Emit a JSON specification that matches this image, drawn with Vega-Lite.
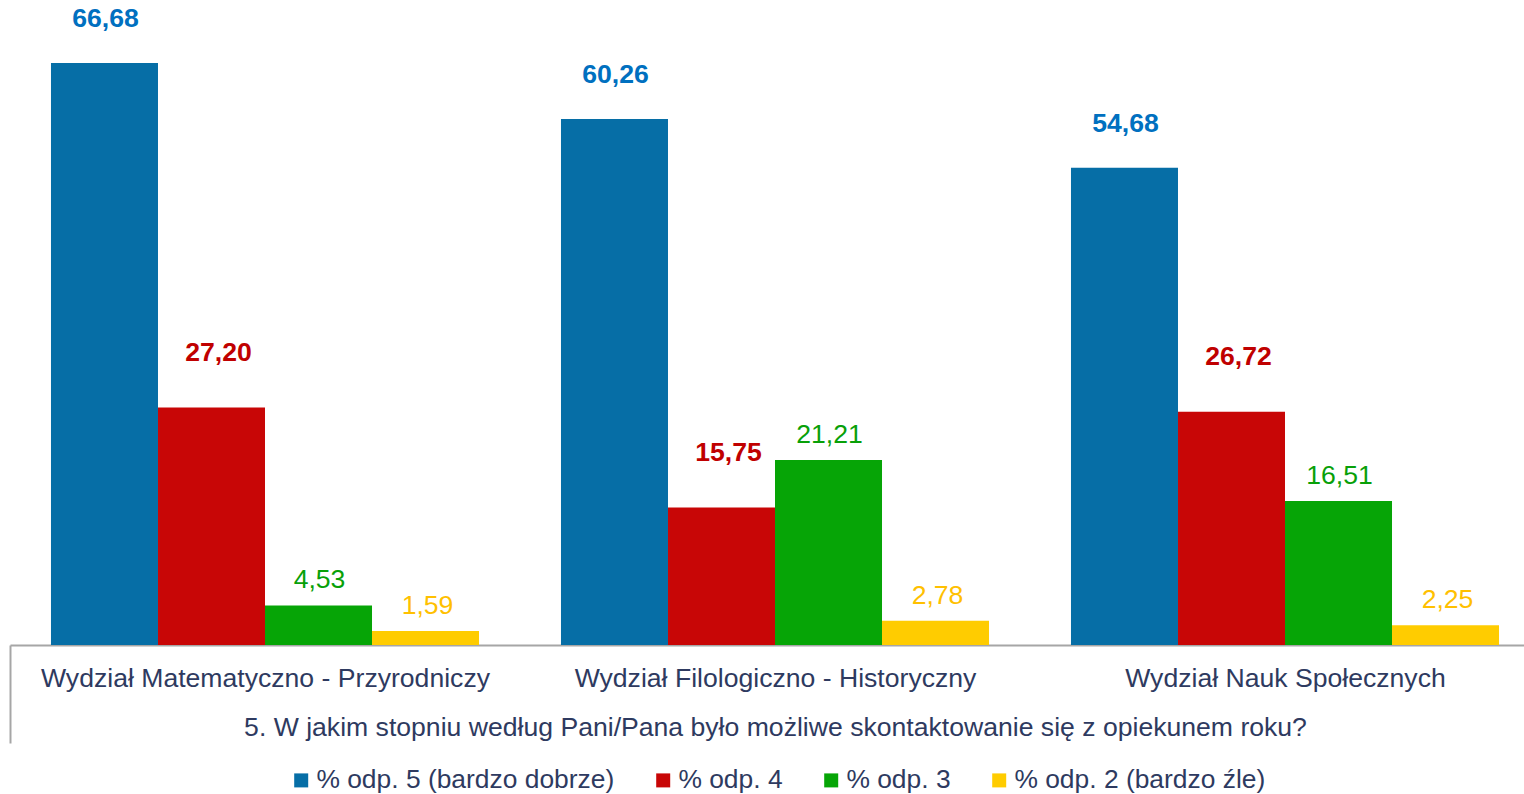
{
  "$schema": "https://vega.github.io/schema/vega-lite/v6.json",
  "width": 1514,
  "height": 645,
  "padding": {"left": 10, "top": 0, "right": 0, "bottom": 149},
  "autosize": {"type": "none"},
  "background": "white",
  "config": {
    "view": {"stroke": null},
    "font": "Liberation Sans",
    "text": {"font": "Liberation Sans"}
  },
  "data": {
    "values": [
      {"wydzial": "Wydział Matematyczno - Przyrodniczy", "seria": "% odp. 5 (bardzo dobrze)", "wartosc": 66.68, "etykieta": "66,68"},
      {"wydzial": "Wydział Matematyczno - Przyrodniczy", "seria": "% odp. 4", "wartosc": 27.20, "etykieta": "27,20"},
      {"wydzial": "Wydział Matematyczno - Przyrodniczy", "seria": "% odp. 3", "wartosc": 4.53, "etykieta": "4,53"},
      {"wydzial": "Wydział Matematyczno - Przyrodniczy", "seria": "% odp. 2 (bardzo źle)", "wartosc": 1.59, "etykieta": "1,59"},
      {"wydzial": "Wydział Filologiczno - Historyczny", "seria": "% odp. 5 (bardzo dobrze)", "wartosc": 60.26, "etykieta": "60,26"},
      {"wydzial": "Wydział Filologiczno - Historyczny", "seria": "% odp. 4", "wartosc": 15.75, "etykieta": "15,75"},
      {"wydzial": "Wydział Filologiczno - Historyczny", "seria": "% odp. 3", "wartosc": 21.21, "etykieta": "21,21"},
      {"wydzial": "Wydział Filologiczno - Historyczny", "seria": "% odp. 2 (bardzo źle)", "wartosc": 2.78, "etykieta": "2,78"},
      {"wydzial": "Wydział Nauk Społecznych", "seria": "% odp. 5 (bardzo dobrze)", "wartosc": 54.68, "etykieta": "54,68"},
      {"wydzial": "Wydział Nauk Społecznych", "seria": "% odp. 4", "wartosc": 26.72, "etykieta": "26,72"},
      {"wydzial": "Wydział Nauk Społecznych", "seria": "% odp. 3", "wartosc": 16.51, "etykieta": "16,51"},
      {"wydzial": "Wydział Nauk Społecznych", "seria": "% odp. 2 (bardzo źle)", "wartosc": 2.25, "etykieta": "2,25"}
    ]
  },
  "encoding": {
    "x": {
      "field": "wydzial",
      "type": "nominal",
      "sort": ["Wydział Matematyczno - Przyrodniczy", "Wydział Filologiczno - Historyczny", "Wydział Nauk Społecznych"],
      "scale": {"range": [0, 1530], "paddingInner": 0, "paddingOuter": 0},
      "axis": {
        "title": "5. W jakim stopniu według Pani/Pana było możliwe skontaktowanie się z opiekunem roku?",
        "labelAngle": 0,
        "labelLimit": 0,
        "labelFont": "Liberation Sans",
        "labelFontSize": 26.6,
        "labelColor": "#2E3A60",
        "labelPadding": -78,
        "tickBand": "extent",
        "tickSize": 98,
        "tickWidth": 2,
        "tickColor": {"condition": {"test": "datum.extra", "value": "#A6A6A6"}, "value": "transparent"},
        "domainColor": "#A6A6A6",
        "domainWidth": 2,
        "titleFont": "Liberation Sans",
        "titleFontSize": 26.6,
        "titleFontWeight": "normal",
        "titleColor": "#2E3A60",
        "titlePadding": -30
      }
    },
    "xOffset": {
      "field": "seria",
      "type": "nominal",
      "sort": ["% odp. 5 (bardzo dobrze)", "% odp. 4", "% odp. 3", "% odp. 2 (bardzo źle)"],
      "scale": {"paddingInner": 0, "paddingOuter": 0.383}
    },
    "y": {
      "field": "wartosc",
      "type": "quantitative",
      "scale": {"domain": [0, 73.9], "nice": false},
      "axis": null
    }
  },
  "layer": [
    {
      "mark": {"type": "bar"},
      "encoding": {
        "color": {
          "field": "seria",
          "type": "nominal",
          "sort": ["% odp. 5 (bardzo dobrze)", "% odp. 4", "% odp. 3", "% odp. 2 (bardzo źle)"],
          "scale": {
            "domain": ["% odp. 5 (bardzo dobrze)", "% odp. 4", "% odp. 3", "% odp. 2 (bardzo źle)"],
            "range": ["#066EA6", "#C80606", "#06A506", "#FFCC00"]
          },
          "legend": {
            "title": null,
            "orient": "none",
            "legendX": 278,
            "legendY": 767,
            "direction": "horizontal",
            "symbolType": "square",
            "symbolSize": 196,
            "symbolStrokeWidth": 0,
            "labelFont": "Liberation Sans",
            "labelFontSize": 26.4,
            "labelColor": "#2E3A60",
            "labelOffset": 2,
            "columnPadding": 35,
            "labelLimit": 0
          }
        }
      }
    },
    {
      "transform": [{"filter": "datum.seria === '% odp. 5 (bardzo dobrze)'"}],
      "mark": {"type": "text", "baseline": "middle", "dy": -44, "dx": 1, "fontSize": 26.6, "fontWeight": "bold", "color": "#0070C0", "font": "Liberation Sans"},
      "encoding": {"text": {"field": "etykieta", "type": "nominal"}}
    },
    {
      "transform": [{"filter": "datum.seria === '% odp. 4'"}],
      "mark": {"type": "text", "baseline": "middle", "dy": -55, "dx": 7, "fontSize": 26.6, "fontWeight": "bold", "color": "#C00000", "font": "Liberation Sans"},
      "encoding": {"text": {"field": "etykieta", "type": "nominal"}}
    },
    {
      "transform": [{"filter": "datum.seria === '% odp. 3'"}],
      "mark": {"type": "text", "baseline": "middle", "dy": -25, "dx": 1, "fontSize": 26.6, "fontWeight": "normal", "color": "#08A008", "font": "Liberation Sans"},
      "encoding": {"text": {"field": "etykieta", "type": "nominal"}}
    },
    {
      "transform": [{"filter": "datum.seria === '% odp. 2 (bardzo źle)'"}],
      "mark": {"type": "text", "baseline": "middle", "dy": -25, "dx": 2, "fontSize": 26.6, "fontWeight": "normal", "color": "#FFC000", "font": "Liberation Sans"},
      "encoding": {"text": {"field": "etykieta", "type": "nominal"}}
    }
  ]
}
